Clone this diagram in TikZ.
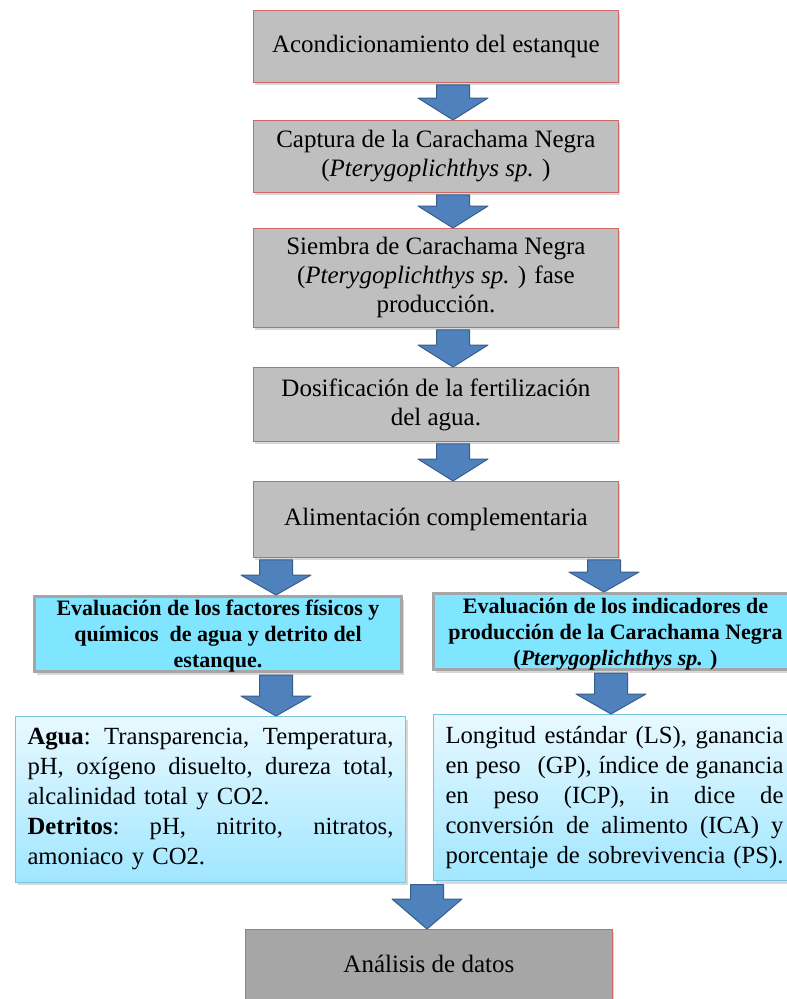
\documentclass[tikz,border=0pt]{standalone}
\usepackage{fontspec}
\setmainfont{Liberation Serif}
\usetikzlibrary{shadows,calc}
\definecolor{boxgray}{RGB}{191,191,191}
\definecolor{boxgraydark}{RGB}{166,166,166}
\definecolor{boxred}{RGB}{205,105,100}
\definecolor{cyanfill}{RGB}{128,229,255}
\definecolor{cyanborder}{RGB}{166,166,166}
\definecolor{lighttop}{RGB}{232,249,255}
\definecolor{lightbot}{RGB}{160,230,255}
\definecolor{lightborder}{RGB}{120,196,228}
\definecolor{arrowfill}{RGB}{79,129,189}
\definecolor{arrowline}{RGB}{56,93,138}
\tikzset{
  graybox/.style={draw=boxred, line width=0.8pt, fill=boxgray, anchor=north west,
    inner sep=0pt, align=center, font=\fontsize{25}{29}\selectfont,
    drop shadow={shadow xshift=2pt, shadow yshift=-3pt, opacity=0.3}},
  cyanbox/.style={draw=cyanborder, line width=3pt, fill=cyanfill, anchor=north west,
    inner sep=0pt, drop shadow={shadow xshift=2pt, shadow yshift=-3pt, opacity=0.3}},
  cyantext/.style={inner sep=0pt, align=center, font=\bfseries\fontsize{22}{26}\selectfont},
  lightbox/.style={draw=lightborder, line width=1pt, top color=lighttop, bottom color=lightbot,
    anchor=north west, inner sep=12pt, align=left, font=\fontsize{24.7}{30}\selectfont,
    drop shadow={shadow xshift=2pt, shadow yshift=-3pt, opacity=0.3}},
  blockarrowstyle/.style={fill=arrowfill, draw=arrowline, line width=1pt, line join=round}
}
\newcommand\wg{\hskip 4pt plus 1fill\relax}
\newcommand\spreadL[1]{\leavevmode\hbox to 366pt{#1}}
\newcommand\spreadR[1]{\leavevmode\hbox to 338pt{#1}}
% #1 x, #2 from node, #3 to node, #4 head length
\newcommand\blockarrow[4]{%
  \path[blockarrowstyle] let \p1=(#2.south), \p2=(#3.north) in
    (#1pt-16.5pt,\y1-2pt) -- (#1pt+16.5pt,\y1-2pt) -- (#1pt+16.5pt,\y2+#4pt)
    -- (#1pt+35pt,\y2+#4pt) -- (#1pt,\y2) -- (#1pt-35pt,\y2+#4pt)
    -- (#1pt-16.5pt,\y2+#4pt) -- cycle;}
\begin{document}
\begin{tikzpicture}[x=1pt,y=-1pt]
\useasboundingbox (0,0) rectangle (787,999);
\fill[white] (0,0) rectangle (787,999);
\clip (0,0) rectangle (787,999);

\node[graybox, minimum width=365, minimum height=72] (b1) at (253,10)
  {\raisebox{-2pt}{Acondicionamiento del estanque}};
\node[graybox, minimum width=365, minimum height=72] (b2) at (253,120)
  {Captura de la Carachama Negra\\(\textit{Pterygoplichthys sp.} )};
\node[graybox, minimum width=365, minimum height=99] (b3) at (253,228)
  {Siembra de Carachama Negra\\(\textit{Pterygoplichthys sp.} ) fase\\producción.};
\node[graybox, minimum width=365, minimum height=74] (b4) at (253,367)
  {Dosificación de la fertilización\\del agua.};
\node[graybox, minimum width=365, minimum height=76] (b5) at (253,481)
  {Alimentación complementaria};

\node[cyanbox, minimum width=367, minimum height=75] (c1) at (33,595) {};
\node[cyantext] (c1t) at ($(c1.center)+(0,2)$)
  {Evaluación de los factores físicos y\\químicos\ \ de agua y detrito del\\estanque.};
\node[cyanbox, minimum width=364, minimum height=76] (c2) at (432,592) {};
\node[cyantext] (c2t) at ($(c2.center)+(0,3)$)
  {Evaluación de los indicadores de\\producción de la Carachama Negra\\(\textit{Pterygoplichthys sp.} )};

\node[lightbox, text width=366, minimum height=161] (l1) at (15,716)
  {\spreadL{\textbf{Agua}:\wg Transparencia,\wg Temperatura,}\\
   \spreadL{pH,\wg oxígeno\wg disuelto,\wg dureza\wg total,}\\
   alcalinidad total y CO2.\\
   \spreadL{\textbf{Detritos}:\wg pH,\wg nitrito,\wg nitratos,}\\
   amoniaco y CO2.};
\node[lightbox, text width=338, minimum height=161] (l2) at (433,714)
  {\spreadR{Longitud\wg estándar\wg (LS),\wg ganancia}\\
   \spreadR{en\wg peso\hskip 10pt\wg (GP),\wg índice\wg de\wg ganancia}\\
   \spreadR{en\wg peso\wg (ICP),\wg in\wg dice\wg de}\\
   \spreadR{conversión\wg de\wg alimento\wg (ICA)\wg y}\\
   \spreadR{porcentaje\wg de\wg sobrevivencia\wg (PS).}};

\node[graybox, fill=boxgraydark, minimum width=367, minimum height=85] (b6) at (245,929)
  {\raisebox{17pt}{Análisis de datos}};

\blockarrow{453}{b1}{b2}{22}
\blockarrow{453}{b2}{b3}{22}
\blockarrow{453}{b3}{b4}{22}
\blockarrow{453}{b4}{b5}{22}
\blockarrow{276}{b5}{c1}{20}
\blockarrow{604}{b5}{c2}{20}
\blockarrow{276}{c1}{l1}{20}
\blockarrow{611}{c2}{l2}{20}
\blockarrow{427}{l1}{b6}{30}
\end{tikzpicture}
\end{document}
